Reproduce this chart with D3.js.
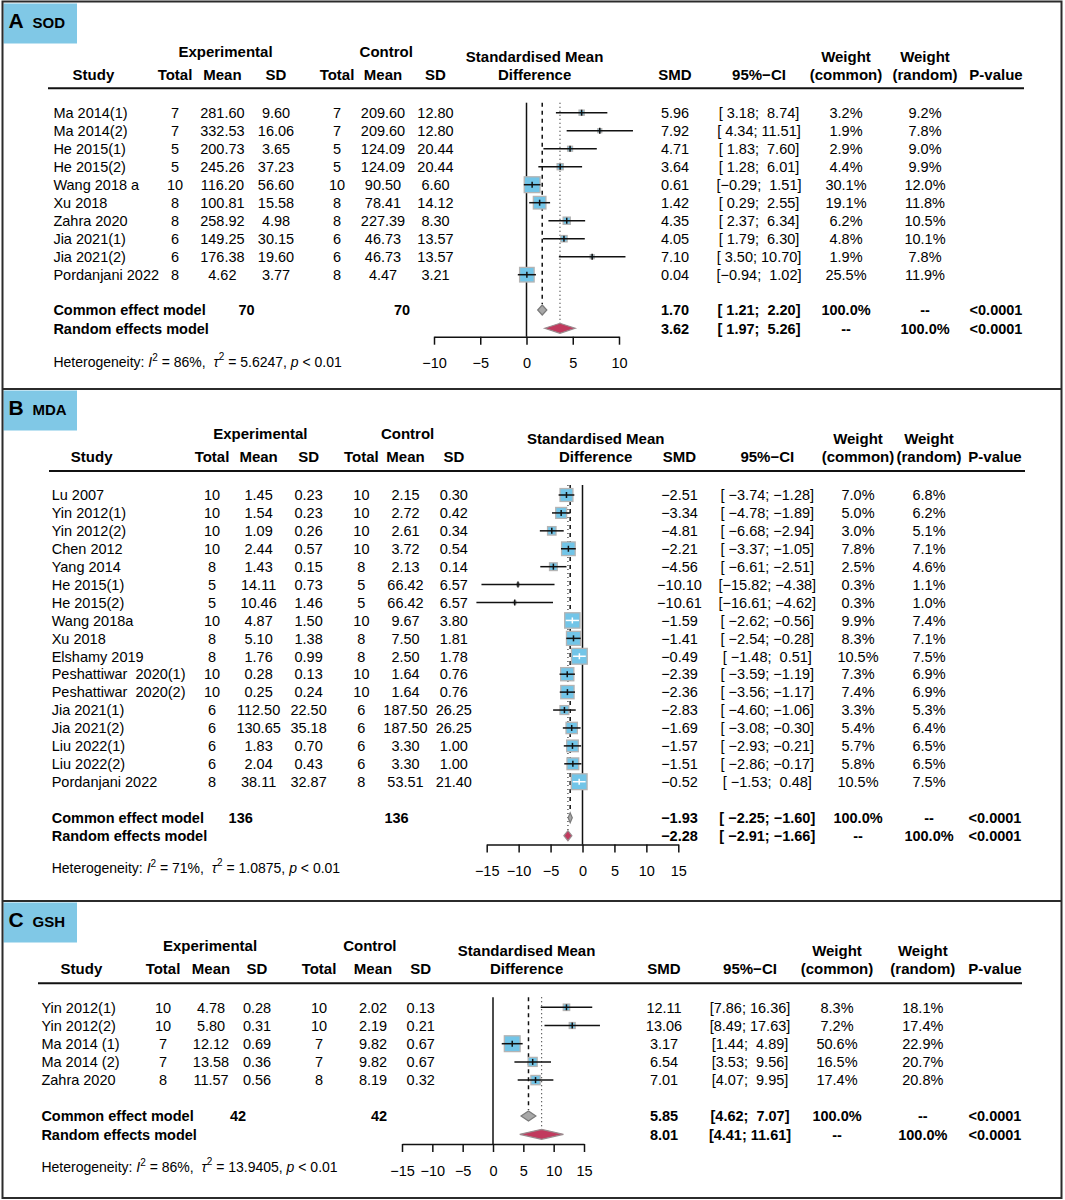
<!DOCTYPE html>
<html><head><meta charset="utf-8">
<script src="https://cdn.jsdelivr.net/npm/d3@7"></script>
<style>
body{margin:0;background:#fff}
svg text{font-family:"Liberation Sans",Arial,Helvetica,sans-serif;white-space:pre;fill:#000}
</style>
</head><body>
<svg id="chart" width="1065" height="1200"></svg>
<script>
// ---------- Panel A: SOD ----------
const sodStudies = ["Ma 2014(1)","Ma 2014(2)","He 2015(1)","He 2015(2)","Wang 2018 a","Xu 2018","Zahra 2020","Jia 2021(1)","Jia 2021(2)","Pordanjani 2022"];
const sodExpTotal = [7,7,5,5,10,8,8,6,6,8];
const sodExpMean = [281.60,332.53,200.73,245.26,116.20,100.81,258.92,149.25,176.38,4.62];
const sodExpSD = [9.60,16.06,3.65,37.23,56.60,15.58,4.98,30.15,19.60,3.77];
const sodCtlTotal = [7,7,5,5,10,8,8,6,6,8];
const sodCtlMean = [209.60,209.60,124.09,124.09,90.50,78.41,227.39,46.73,46.73,4.47];
const sodCtlSD = [12.80,12.80,20.44,20.44,6.60,14.12,8.30,13.57,13.57,3.21];
const sodSMD = [5.96,7.92,4.71,3.64,0.61,1.42,4.35,4.05,7.10,0.04];
const sodLower = [3.18,4.34,1.83,1.28,-0.29,0.29,2.37,1.79,3.50,-0.94];
const sodUpper = [8.74,11.51,7.60,6.01,1.51,2.55,6.34,6.30,10.70,1.02];
const sodWCommon = [3.2,1.9,2.9,4.4,30.1,19.1,6.2,4.8,1.9,25.5];
const sodWRandom = [9.2,7.8,9.0,9.9,12.0,11.8,10.5,10.1,7.8,11.9];
const sodSummary = [1.70,1.21,2.20, 3.62,1.97,5.26]; // common smd, lo, hi, random smd, lo, hi
const sodTotals = [70,70];
const sodHet = ["86%","5.6247","< 0.01"];
const sodTicks = [-10,-5,0,5,10];

// ---------- Panel B: MDA ----------
const mdaStudies = ["Lu 2007","Yin 2012(1)","Yin 2012(2)","Chen 2012","Yang 2014","He 2015(1)","He 2015(2)","Wang 2018a","Xu 2018","Elshamy 2019","Peshattiwar  2020(1)","Peshattiwar  2020(2)","Jia 2021(1)","Jia 2021(2)","Liu 2022(1)","Liu 2022(2)","Pordanjani 2022"];
const mdaExpTotal = [10,10,10,10,8,5,5,10,8,8,10,10,6,6,6,6,8];
const mdaExpMean = [1.45,1.54,1.09,2.44,1.43,14.11,10.46,4.87,5.10,1.76,0.28,0.25,112.50,130.65,1.83,2.04,38.11];
const mdaExpSD = [0.23,0.23,0.26,0.57,0.15,0.73,1.46,1.50,1.38,0.99,0.13,0.24,22.50,35.18,0.70,0.43,32.87];
const mdaCtlTotal = [10,10,10,10,8,5,5,10,8,8,10,10,6,6,6,6,8];
const mdaCtlMean = [2.15,2.72,2.61,3.72,2.13,66.42,66.42,9.67,7.50,2.50,1.64,1.64,187.50,187.50,3.30,3.30,53.51];
const mdaCtlSD = [0.30,0.42,0.34,0.54,0.14,6.57,6.57,3.80,1.81,1.78,0.76,0.76,26.25,26.25,1.00,1.00,21.40];
const mdaSMD = [-2.51,-3.34,-4.81,-2.21,-4.56,-10.10,-10.61,-1.59,-1.41,-0.49,-2.39,-2.36,-2.83,-1.69,-1.57,-1.51,-0.52];
const mdaLower = [-3.74,-4.78,-6.68,-3.37,-6.61,-15.82,-16.61,-2.62,-2.54,-1.48,-3.59,-3.56,-4.60,-3.08,-2.93,-2.86,-1.53];
const mdaUpper = [-1.28,-1.89,-2.94,-1.05,-2.51,-4.38,-4.62,-0.56,-0.28,0.51,-1.19,-1.17,-1.06,-0.30,-0.21,-0.17,0.48];
const mdaWCommon = [7.0,5.0,3.0,7.8,2.5,0.3,0.3,9.9,8.3,10.5,7.3,7.4,3.3,5.4,5.7,5.8,10.5];
const mdaWRandom = [6.8,6.2,5.1,7.1,4.6,1.1,1.0,7.4,7.1,7.5,6.9,6.9,5.3,6.4,6.5,6.5,7.5];
const mdaSummary = [-1.93,-2.25,-1.60, -2.28,-2.91,-1.66];
const mdaTotals = [136,136];
const mdaHet = ["71%","1.0875","< 0.01"];
const mdaTicks = [-15,-10,-5,0,5,10,15];

// ---------- Panel C: GSH ----------
const gshStudies = ["Yin 2012(1)","Yin 2012(2)","Ma 2014 (1)","Ma 2014 (2)","Zahra 2020"];
const gshExpTotal = [10,10,7,7,8];
const gshExpMean = [4.78,5.80,12.12,13.58,11.57];
const gshExpSD = [0.28,0.31,0.69,0.36,0.56];
const gshCtlTotal = [10,10,7,7,8];
const gshCtlMean = [2.02,2.19,9.82,9.82,8.19];
const gshCtlSD = [0.13,0.21,0.67,0.67,0.32];
const gshSMD = [12.11,13.06,3.17,6.54,7.01];
const gshLower = [7.86,8.49,1.44,3.53,4.07];
const gshUpper = [16.36,17.63,4.89,9.56,9.95];
const gshWCommon = [8.3,7.2,50.6,16.5,17.4];
const gshWRandom = [18.1,17.4,22.9,20.7,20.8];
const gshSummary = [5.85,4.62,7.07, 8.01,4.41,11.61];
const gshTotals = [42,42];
const gshHet = ["86%","13.9405","< 0.01"];
const gshTicks = [-15,-10,-5,0,5,10,15];

// ---------- layout (positions only) ----------
const layouts = [
  {letter:"A", name:"SOD", top:2, row0:112.7, step:18, yC:310, yR:328.3, h2:75, hline:88.3, lx0:48, lx1:1024,
   axisY:336.7, hetY:361.7, sx:53.4, c:{eT:175,eM:222.4,eSD:276,cT:337,cM:383,cSD:435.5,plot:534.6,smd:675,ci:759,wc:846,wr:925,p:996},
   sumTot:[246.6,402], range:[434,619], domain:[-10,10]},
  {letter:"B", name:"MDA", top:389, row0:495, step:17.92, yC:817.7, yR:835.7, h2:457, hline:471, lx0:49, lx1:1025,
   axisY:844.5, hetY:867.7, sx:51.7, c:{eT:212,eM:258.6,eSD:308.6,cT:361.4,cM:405.5,cSD:453.8,plot:595.7,smd:679.5,ci:767.3,wc:858,wr:929,p:995},
   sumTot:[240.7,396.6], range:[486.7,678.3], domain:[-15,15]},
  {letter:"C", name:"GSH", top:901, row0:1007.3, step:18.2, yC:1116, yR:1134.3, h2:969, hline:983.3, lx0:38, lx1:1022,
   axisY:1144, hetY:1166.7, sx:41.4, c:{eT:163,eM:211,eSD:257,cT:319,cM:373,cSD:420.7,plot:526.6,smd:664,ci:750,wc:837,wr:922.8,p:995},
   sumTot:[238,379], range:[402,584], domain:[-15,15]}
];

const panels = [
  {studies:sodStudies,eT:sodExpTotal,eM:sodExpMean,eSD:sodExpSD,cT:sodCtlTotal,cM:sodCtlMean,cSD:sodCtlSD,smd:sodSMD,lo:sodLower,hi:sodUpper,wc:sodWCommon,wr:sodWRandom,sum:sodSummary,tot:sodTotals,het:sodHet,ticks:sodTicks},
  {studies:mdaStudies,eT:mdaExpTotal,eM:mdaExpMean,eSD:mdaExpSD,cT:mdaCtlTotal,cM:mdaCtlMean,cSD:mdaCtlSD,smd:mdaSMD,lo:mdaLower,hi:mdaUpper,wc:mdaWCommon,wr:mdaWRandom,sum:mdaSummary,tot:mdaTotals,het:mdaHet,ticks:mdaTicks},
  {studies:gshStudies,eT:gshExpTotal,eM:gshExpMean,eSD:gshExpSD,cT:gshCtlTotal,cM:gshCtlMean,cSD:gshCtlSD,smd:gshSMD,lo:gshLower,hi:gshUpper,wc:gshWCommon,wr:gshWRandom,sum:gshSummary,tot:gshTotals,het:gshHet,ticks:gshTicks}
];

const svg = d3.select("#chart");
const minus = s => s.replace(/-/g,"\u2212");
const f2 = v => minus(v.toFixed(2));

function txt(g, x, y, s, opts={}) {
  return g.append("text").attr("x",x).attr("y",y).attr("dy","0.36em")
    .attr("text-anchor",opts.anchor||"middle")
    .attr("font-size",opts.size||14.5)
    .attr("font-weight",opts.bold?"bold":"normal")
    .text(s);
}

function drawPanel(d, L) {
  const g = svg.append("g");
  const n = d.studies.length;
  const y = d3.scaleLinear().domain([0,n-1]).range([L.row0, L.row0+(n-1)*L.step]);
  const x = d3.scaleLinear().domain(L.domain).range(L.range);
  const C = L.c;

  // label box
  g.append("rect").attr("x",3.5).attr("y",L.top+1.5).attr("width",73.5).attr("height",40).attr("fill","#80c8e6");
  g.append("text").attr("x",8.5).attr("y",L.top+26).attr("font-size",21).attr("font-weight","bold").text(L.letter);
  g.append("text").attr("x",32.5).attr("y",L.top+26).attr("font-size",15).attr("font-weight","bold").text(L.name);

  // headers
  const h1e = L.h2-23, h1s = L.h2-18.5;
  const hb = {bold:true, size:15};
  txt(g,(C.eT+C.eSD)/2,h1e,"Experimental",hb);
  txt(g,(C.cT+C.cSD)/2,h1e,"Control",hb);
  txt(g,C.plot,h1s,"Standardised Mean",hb);
  txt(g,C.wc,h1s,"Weight",hb);
  txt(g,C.wr,h1s,"Weight",hb);
  txt(g,L.sx+40,L.h2,"Study",hb);
  txt(g,C.eT,L.h2,"Total",hb); txt(g,C.eM,L.h2,"Mean",hb); txt(g,C.eSD,L.h2,"SD",hb);
  txt(g,C.cT,L.h2,"Total",hb); txt(g,C.cM,L.h2,"Mean",hb); txt(g,C.cSD,L.h2,"SD",hb);
  txt(g,C.plot,L.h2,"Difference",hb);
  txt(g,C.smd,L.h2,"SMD",hb);
  txt(g,C.ci,L.h2,"95%\u2212CI",hb);
  txt(g,C.wc,L.h2,"(common)",hb);
  txt(g,C.wr,L.h2,"(random)",hb);
  txt(g,C.p,L.h2,"P-value",hb);
  g.append("line").attr("x1",L.lx0).attr("x2",L.lx1).attr("y1",L.hline).attr("y2",L.hline)
    .attr("stroke","#111").attr("stroke-width",2);

  // CI string formatting with padding
  const allLo = d.lo.concat([d.sum[1],d.sum[4]]).map(v=>v.toFixed(2));
  const allHi = d.hi.concat([d.sum[2],d.sum[5]]).map(v=>v.toFixed(2));
  const wLo = d3.max(allLo,s=>s.length), wHi = d3.max(allHi,s=>s.length);
  const ciStr = (lo,hi) => minus("[" + lo.toFixed(2).padStart(wLo," ") + "; " + hi.toFixed(2).padStart(wHi," ") + "]");

  // study rows
  d.studies.forEach((s,i)=>{
    const yy = y(i);
    txt(g,L.sx,yy,s,{anchor:"start"});
    txt(g,C.eT,yy,String(d.eT[i]));
    txt(g,C.eM,yy,d.eM[i].toFixed(2));
    txt(g,C.eSD,yy,d.eSD[i].toFixed(2));
    txt(g,C.cT,yy,String(d.cT[i]));
    txt(g,C.cM,yy,d.cM[i].toFixed(2));
    txt(g,C.cSD,yy,d.cSD[i].toFixed(2));
    txt(g,C.smd,yy,f2(d.smd[i]));
    txt(g,C.ci,yy,ciStr(d.lo[i],d.hi[i]));
    txt(g,C.wc,yy,d.wc[i].toFixed(1)+"%");
    txt(g,C.wr,yy,d.wr[i].toFixed(1)+"%");
  });

  // summary rows
  const sb = {bold:true};
  txt(g,L.sx,L.yC,"Common effect model",{anchor:"start",bold:true});
  txt(g,L.sx,L.yR,"Random effects model",{anchor:"start",bold:true});
  txt(g,L.sumTot[0],L.yC,String(d.tot[0]),sb);
  txt(g,L.sumTot[1],L.yC,String(d.tot[1]),sb);
  txt(g,C.smd,L.yC,f2(d.sum[0]),sb);
  txt(g,C.ci,L.yC,ciStr(d.sum[1],d.sum[2]),sb);
  txt(g,C.wc,L.yC,"100.0%",sb);
  txt(g,C.wr,L.yC,"--",sb);
  txt(g,C.p,L.yC,"<0.0001",sb);
  txt(g,C.smd,L.yR,f2(d.sum[3]),sb);
  txt(g,C.ci,L.yR,ciStr(d.sum[4],d.sum[5]),sb);
  txt(g,C.wc,L.yR,"--",sb);
  txt(g,C.wr,L.yR,"100.0%",sb);
  txt(g,C.p,L.yR,"<0.0001",sb);

  // heterogeneity
  const t = g.append("text").attr("x",L.sx).attr("y",L.hetY).attr("dy","0.36em").attr("font-size",14);
  t.append("tspan").text("Heterogeneity: ");
  t.append("tspan").attr("font-style","italic").text("I");
  t.append("tspan").attr("font-size",10).attr("dy",-6).text("2");
  t.append("tspan").attr("dy",6).text(" = " + d.het[0] + ",  ");
  t.append("tspan").attr("font-style","italic").text("\u03C4");
  t.append("tspan").attr("font-size",10).attr("dy",-7).text("2");
  t.append("tspan").attr("dy",7).text(" = " + d.het[1] + ", ");
  t.append("tspan").attr("font-style","italic").text("p");
  t.append("tspan").text(" " + d.het[2]);

  // forest plot
  const top = L.row0 - 10;
  const p = g.append("g");
  p.append("line").attr("x1",x(d.sum[0])).attr("x2",x(d.sum[0])).attr("y1",top).attr("y2",L.yC-6)
    .attr("stroke","#111").attr("stroke-width",1.5).attr("stroke-dasharray","4,4");
  p.append("line").attr("x1",x(d.sum[3])).attr("x2",x(d.sum[3])).attr("y1",top).attr("y2",L.yR-5)
    .attr("stroke","#333").attr("stroke-width",1.2).attr("stroke-dasharray","1,3");
  p.append("line").attr("x1",x(0)).attr("x2",x(0)).attr("y1",top).attr("y2",L.axisY)
    .attr("stroke","#111").attr("stroke-width",1.5);

  const maxW = d3.max(d.wc);
  const side = w => 15.8*Math.sqrt(w/maxW);
  d.studies.forEach((s,i)=>{
    const yy = y(i), cx = x(d.smd[i]), sz = side(d.wc[i]);
    p.append("rect").attr("x",cx-sz/2).attr("y",yy-sz/2).attr("width",sz).attr("height",sz)
      .attr("fill","#72c5e8").attr("stroke","#b4b4b4").attr("stroke-width",1.3);
    const inside = x(d.lo[i]) >= cx-sz/2 && x(d.hi[i]) <= cx+sz/2;
    const col = inside ? "#fff" : "#111";
    p.append("line").attr("x1",x(d.lo[i])).attr("x2",x(d.hi[i])).attr("y1",yy).attr("y2",yy)
      .attr("stroke",col).attr("stroke-width",1.5);
    p.append("line").attr("x1",cx).attr("x2",cx).attr("y1",yy-3).attr("y2",yy+3)
      .attr("stroke",col).attr("stroke-width",1.5);
  });

  const dia = (est,lo,hi,yy,fill,stroke) => {
    const pts = [[x(lo),yy],[x(est),yy-5],[x(hi),yy],[x(est),yy+5]];
    p.append("polygon").attr("points",pts.map(q=>q.join(",")).join(" "))
      .attr("fill",fill).attr("stroke",stroke).attr("stroke-width",1.2);
  };
  dia(d.sum[0],d.sum[1],d.sum[2],L.yC,"#a8a8a8","#7a7a7a");
  dia(d.sum[3],d.sum[4],d.sum[5],L.yR,"#c13a5e","#9a8a8e");

  const ax = p.append("g").attr("transform",`translate(0,${L.axisY})`)
    .call(d3.axisBottom(x).tickValues(d.ticks).tickSize(8).tickSizeOuter(0).tickPadding(13.5));
  ax.attr("font-family",null).attr("font-size",null);
  ax.selectAll("path,line").attr("stroke","#111").attr("stroke-width",1.5);
  ax.selectAll("text").attr("font-size",14.5).attr("fill","#000");
}

panels.forEach((d,i)=>drawPanel(d,layouts[i]));

svg.append("rect").attr("x",2.5).attr("y",1.5).attr("width",1059).attr("height",1196.5)
  .attr("fill","none").attr("stroke","#2b2b2b").attr("stroke-width",2);
[389,901].forEach(yy=>svg.append("line").attr("x1",2.5).attr("x2",1061.5).attr("y1",yy).attr("y2",yy)
  .attr("stroke","#2b2b2b").attr("stroke-width",2));
</script>
</body></html>
